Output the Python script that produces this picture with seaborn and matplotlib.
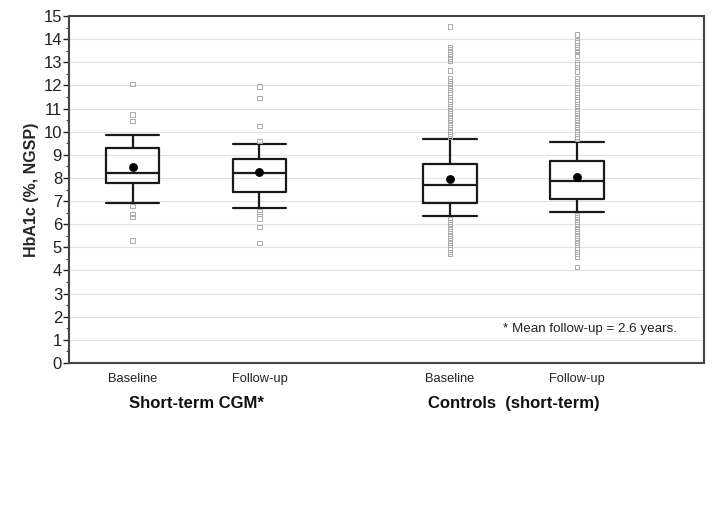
"""
HbA1c at baseline and follow-up: short-term CGM vs controls (box plots)
"""

import pandas as pd
import numpy as np
import matplotlib
matplotlib.use('Agg')
import matplotlib.pyplot as plt
import seaborn as sns

# --- data ---
positions = [0, 1, 2.5, 3.5]
tick_labels = ['Baseline', 'Follow-up', 'Baseline', 'Follow-up']
group_labels = ['Short-term CGM*', 'Controls  (short-term)']
group_centers = [0.5, 3.0]

whisker_low = [6.92, 6.71, 6.34, 6.54]
q1 = [7.77, 7.38, 6.92, 7.09]
median = [8.23, 8.23, 7.68, 7.87]
q3 = [9.30, 8.81, 8.62, 8.72]
whisker_high = [9.86, 9.47, 9.67, 9.57]
means = [8.49, 8.27, 7.95, 8.06]

outliers_cgm_base = [12.05, 10.75, 10.45, 6.8, 6.45, 6.3, 5.3]
outliers_cgm_follow = [11.95, 11.47, 10.25, 9.6, 6.55, 6.45, 6.25, 5.87, 5.2]
outliers_ctrl_base = [14.55, 13.65, 13.55, 13.45, 13.35, 13.25, 13.15, 13.05, 12.65,
                      12.3, 12.2, 12.1, 12.0, 11.9, 11.8, 11.7, 11.6, 11.5, 11.4,
                      11.3, 11.2, 11.1, 11.0, 10.9, 10.8, 10.7, 10.6, 10.5, 10.4,
                      10.3, 10.2, 10.1, 10.0, 9.9, 9.8,
                      6.2, 6.1, 6.0, 5.9, 5.8, 5.7, 5.6, 5.5, 5.4, 5.3, 5.2,
                      5.1, 5.0, 4.9, 4.8, 4.7]
outliers_ctrl_follow = [14.2, 13.95, 13.85, 13.75, 13.65, 13.55, 13.45, 13.3, 13.0,
                        12.9, 12.8, 12.6, 12.3, 12.2, 12.1, 12.0, 11.9, 11.8, 11.7,
                        11.6, 11.5, 11.4, 11.3, 11.2, 11.1, 11.0, 10.9, 10.8, 10.7,
                        10.6, 10.5, 10.4, 10.3, 10.2, 10.1, 10.0, 9.9, 9.8, 9.7,
                        6.4, 6.3, 6.2, 6.1, 6.0, 5.9, 5.8, 5.7, 5.6, 5.5, 5.4,
                        5.3, 5.2, 5.1, 5.0, 4.9, 4.8, 4.7, 4.6, 4.15]

note_text = '* Mean follow-up = 2.6 years.'

sns.set_theme(style='white')
plt.rcParams['font.family'] = ['Liberation Sans', 'DejaVu Sans']

# five-number summaries as rows -> boxplot with whis=(0, 100) reproduces them
box_rows = []
for i, p in enumerate(positions):
    for v in (whisker_low[i], q1[i], median[i], q3[i], whisker_high[i]):
        box_rows.append({'pos': p, 'value': v})
box_df = pd.DataFrame(box_rows)

out_rows = []
for p, vals in zip(positions, [outliers_cgm_base, outliers_cgm_follow,
                               outliers_ctrl_base, outliers_ctrl_follow]):
    for v in vals:
        out_rows.append({'pos': p, 'value': v})
out_df = pd.DataFrame(out_rows)

fig = plt.figure(figsize=(7.19, 5.11), dpi=100)
ax = fig.add_axes([0.096, 0.2896, 0.883, 0.679])

box_w = 0.42
sns.boxplot(data=box_df, x='pos', y='value', native_scale=True, whis=(0, 100),
            width=box_w, fill=False, color='#1a1a1a', linewidth=1.6,
            showfliers=False, ax=ax)

# caps as wide as the boxes
cap_vals = set(np.round(whisker_low + whisker_high, 3))
for line in ax.lines:
    xd, yd = np.asarray(line.get_xdata(), float), np.asarray(line.get_ydata(), float)
    if len(yd) == 2 and yd[0] == yd[1] and round(yd[0], 3) in cap_vals and xd[0] != xd[1]:
        c = xd.mean()
        line.set_xdata([c - box_w / 2, c + box_w / 2])

sns.scatterplot(data=out_df, x='pos', y='value', marker='s', s=10,
                facecolors='none', edgecolor='#ababab', linewidth=0.7,
                ax=ax, zorder=2)
sns.scatterplot(x=positions, y=means, color='black', s=34, edgecolor='black',
                ax=ax, zorder=5)

ax.set_xlim(-0.5, 4.5)
ax.set_ylim(0, 15)
ax.set_yticks(range(0, 16))
ax.set_yticks(np.arange(0.5, 15, 1), minor=True)
ax.set_xticks(positions, tick_labels)
ax.tick_params(axis='x', length=0, pad=7, labelsize=9.3, colors='#222222')
ax.tick_params(axis='y', which='major', length=4, width=1, direction='out',
               left=True, labelsize=12, pad=1, colors='#222222')
ax.tick_params(axis='y', which='minor', length=2.5, width=0.8, direction='out',
               left=True, color='#444444')
ax.set_xlabel('')
ax.set_ylabel('HbA1c (%, NGSP)', fontsize=11.5, fontweight='bold', labelpad=3)

ax.yaxis.grid(True, color='#e3e3e3', linewidth=0.8)
ax.set_axisbelow(True)
for name, sp in ax.spines.items():
    sp.set_visible(True)
    sp.set_color('#444444')
    sp.set_linewidth(1.5)

for cx, lab in zip(group_centers, group_labels):
    ax.text(cx, -0.116, lab, transform=ax.get_xaxis_transform(), ha='center',
            va='center', fontsize=12, fontweight='bold', color='#111111')

ax.text(4.29, 1.47, note_text, ha='right', va='center', fontsize=9.6,
        color='#222222')

fig.savefig('out.png', dpi=100)
